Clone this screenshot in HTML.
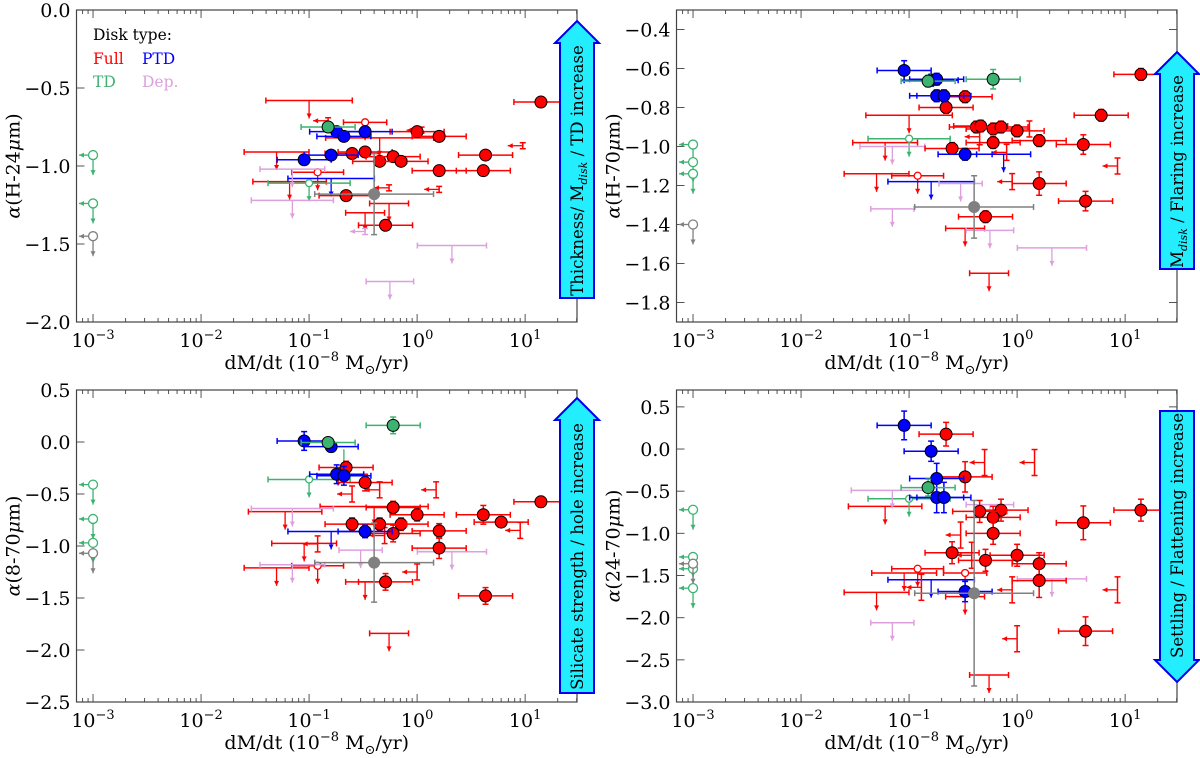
<!DOCTYPE html>
<html><head><meta charset="utf-8"><style>
html,body{margin:0;padding:0;background:#fff;}
svg{display:block;font-family:"DejaVu Serif","Liberation Serif",serif;}
</style></head><body>
<svg id="chart" width="1200" height="758" viewBox="0 0 1200 758" xmlns="http://www.w3.org/2000/svg">
<g font-size="15.5">
<text x="93" y="40" fill="#000">Disk type:</text>
<text x="93" y="64" fill="#ff0000">Full</text>
<text x="142" y="64" fill="#0000ff">PTD</text>
<text x="93" y="87" fill="#3cb371">TD</text>
<text x="142" y="87" fill="#dda0dd">Dep.</text>
</g>
</svg>
<script>
// ---- data (x in 1e-8 Msun/yr, y = spectral index) ----
// color codes: r=Full, b=PTD, g=TD, p=Dep., k=unknown(gray)
const xTickLabels = ["-3","-2","-1","0","1"];
const p1YTicks = [0.0,-0.5,-1.0,-1.5,-2.0];
const p2YTicks = [-0.4,-0.6,-0.8,-1.0,-1.2,-1.4,-1.6,-1.8];
const p3YTicks = [0.5,0.0,-0.5,-1.0,-1.5,-2.0,-2.5];
const p4YTicks = [0.5,0.0,-0.5,-1.0,-1.5,-2.0,-2.5,-3.0];

// Panel 1: alpha(H-24)
const p1FX = [14,1.0,1.6,4.3,1.6,4.1,0.25,0.33,0.45,0.6,0.71,0.22,0.51, 0.09,0.16,0.18,0.21,0.33, 0.15, 0.40];
const p1FY = [-0.59,-0.78,-0.81,-0.93,-1.03,-1.03,-0.92,-0.91,-0.97,-0.94,-0.97,-1.19,-1.38, -0.96,-0.93,-0.78,-0.81,-0.78, -0.75, -1.18];
const p1FC = ["r","r","r","r","r","r","r","r","r","r","r","r","r","b","b","b","b","b","g","k"];
const p1FYE = [0.03,0.03,0.03,0.03,0.03,0.03,0.03,0.03,0.03,0.03,0.03,0.03,0.03,0.03,0.03,0.03,0.03,0.03,0.03,0.26];
const p1LX = [0.1,0.066,0.05,0.33,0.55,0.45,0.33,0.12,0.16,0.1,0.07,2.1,0.56,0.07];
const p1LY = [-0.58,-1.10,-0.91,-1.30,-1.24,-0.82,-0.72,-1.04,-1.08,-1.11,-1.22,-1.51,-1.74,-1.02];
const p1LW = [0.4,0.34,0.3,0.18,0.18,0.5,0.2,0.24,0.4,0.38,0.38,0.32,0.22,0.3];
const p1LC = ["r","r","r","r","r","r","r","r","b","g","p","p","p","p"];
const p1LO = [0,0,0,0,0,0,1,1,0,1,0,0,0,0];
const p1AX = [9.5,1.6,1.1,0.15,0.55,0.33];
const p1AY = [-0.87,-1.15,-0.77,-0.71,-1.14,-1.42];
const p1AC = ["r","r","r","r","r","p"];
const p1CY = [-0.93,-1.24,-1.45];
const p1CC = ["g","g","k"];

// Panel 2: alpha(H-70)
const p2FX = [14,6.0,0.33,0.22,0.42,0.46,0.6,0.71,1.0,1.6,4.1,0.25,0.6,1.6,4.3,0.51, 0.09,0.16,0.18,0.18,0.21,0.33, 0.15,0.6, 0.40];
const p2FY = [-0.63,-0.84,-0.745,-0.80,-0.90,-0.895,-0.91,-0.90,-0.92,-0.97,-0.99,-1.01,-0.98,-1.19,-1.28,-1.36, -0.61,-0.66,-0.655,-0.74,-0.74,-1.04, -0.665,-0.655, -1.31];
const p2FC = ["r","r","r","r","r","r","r","r","r","r","r","r","r","r","r","r","b","b","b","b","b","b","g","g","k"];
const p2FYE = [0.03,0.03,0.03,0.03,0.03,0.03,0.03,0.03,0.03,0.03,0.05,0.03,0.03,0.06,0.05,0.03,0.05,0.03,0.03,0.03,0.03,0.03,0.03,0.05,0.16];
const p2LX = [0.1,0.06,0.05,0.33,0.55,0.12,0.16,0.75,0.1,0.07,2.1,0.56,0.3,0.07];
const p2LY = [-0.84,-0.98,-1.14,-1.42,-1.65,-1.15,-1.18,-1.04,-0.96,-1.32,-1.52,-1.43,-1.19,-1.0];
const p2LW = [0.4,0.3,0.3,0.18,0.18,0.24,0.4,0.25,0.38,0.2,0.32,0.22,0.2,0.3];
const p2LC = ["r","r","r","r","r","r","b","b","g","p","p","p","p","p"];
const p2LO = [0,0,0,0,0,1,0,0,1,0,0,0,0,0];
const p2AX = [8.5,1.3,0.9,0.8,0.45];
const p2AY = [-1.10,-0.91,-1.18,-1.03,-0.95];
const p2AC = ["r","r","r","r","r"];
const p2CY = [-0.99,-1.08,-1.14,-1.40];
const p2CC = ["g","g","g","k"];

// Panel 3: alpha(8-70)
const p3FX = [14,6.0,4.1,4.3,1.6,1.6,1.0,0.71,0.6,0.6,0.45,0.25,0.33,0.22,0.51, 0.09,0.16,0.18,0.21,0.33, 0.6,0.15, 0.40];
const p3FY = [-0.575,-0.77,-0.70,-1.48,-0.855,-1.02,-0.70,-0.79,-0.63,-0.88,-0.79,-0.79,-0.39,-0.245,-1.345, 0.01,-0.045,-0.31,-0.325,-0.86, 0.16,-0.005, -1.16];
const p3FC = ["r","r","r","r","r","r","r","r","r","r","r","r","r","r","r","b","b","b","b","b","g","g","k"];
const p3FYE = [0.05,0.05,0.09,0.08,0.07,0.1,0.06,0.06,0.06,0.08,0.06,0.06,0.08,0.06,0.08,0.09,0.05,0.09,0.09,0.06,0.08,0.05,0.38];
const p3LX = [0.06,0.09,0.05,0.33,0.55,0.4,0.12,0.16,0.1,0.21,0.07,0.07,2.1,0.3];
const p3LY = [-0.67,-0.975,-1.21,-1.345,-1.84,-0.62,-1.19,-0.86,-0.36,-0.07,-0.64,-1.18,-1.055,-1.04];
const p3LW = [0.34,0.3,0.3,0.18,0.18,0.5,0.24,0.4,0.38,0.0,0.38,0.3,0.32,0.2];
const p3LC = ["r","r","r","r","r","r","r","b","g","g","p","p","p","p"];
const p3LO = [0,0,0,0,0,0,1,0,1,0,0,0,0,0];
const p3AX = [9.0,1.5,1.0,0.45,0.12,0.25,0.5];
const p3AY = [-0.85,-0.46,-1.25,-0.46,-0.98,-0.50,-0.90];
const p3AC = ["r","r","r","r","r","r","r"];
const p3CY = [-0.41,-0.74,-0.97,-1.07];
const p3CC = ["g","g","g","k"];

// Panel 4: alpha(24-70)
const p4FX = [14,4.1,4.3,1.6,1.6,1.0,0.71,0.6,0.6,0.45,0.51,0.25,0.33,0.22, 0.09,0.16,0.18,0.18,0.21,0.33, 0.15, 0.40];
const p4FY = [-0.725,-0.875,-2.16,-1.36,-1.56,-1.26,-0.725,-0.81,-1.0,-0.74,-1.32,-1.23,-0.33,0.176, 0.28,-0.026,-0.35,-0.575,-0.575,-1.69, -0.457, -1.71];
const p4FC = ["r","r","r","r","r","r","r","r","r","r","r","r","r","r","b","b","b","b","b","b","g","k"];
const p4FYE = [0.13,0.2,0.17,0.13,0.2,0.13,0.13,0.13,0.13,0.13,0.13,0.13,0.18,0.14,0.17,0.12,0.18,0.18,0.18,0.12,0.1,1.1];
const p4LX = [0.06,0.09,0.05,0.33,0.55,0.12,0.33,0.16,0.1,0.07,0.07,2.1,0.56];
const p4LY = [-0.68,-1.47,-1.70,-1.75,-2.68,-1.42,-1.47,-1.55,-0.59,-0.49,-2.06,-1.54,-0.66];
const p4LW = [0.34,0.3,0.3,0.18,0.18,0.24,0.2,0.4,0.38,0.38,0.2,0.32,0.22];
const p4LC = ["r","r","r","r","r","r","r","b","g","p","p","p","p"];
const p4LO = [0,0,0,0,0,1,1,0,1,0,0,0,0];
const p4AX = [0.5,1.45,8.5,0.9,1.0,0.3,0.38,0.13];
const p4AY = [-0.16,-0.16,-1.67,-1.67,-2.25,-1.02,-1.26,-1.64];
const p4AC = ["r","r","r","r","r","r","r","r"];
const p4CY = [-0.72,-1.28,-1.42,-1.65,-1.36];
const p4CC = ["g","g","g","g","k"];

// ---- rendering ----
const COLORS = {r:"#ff0000", b:"#0000ff", g:"#3cb371", p:"#dda0dd", k:"#808080"};
const svg = document.getElementById("chart");
const NS = "http://www.w3.org/2000/svg";
const XMIN = -3.153, XMAX = 1.48;

function mk(tag, attrs, parent) {
  const e = document.createElementNS(NS, tag);
  for (const k in attrs) e.setAttribute(k, attrs[k]);
  (parent || svg).appendChild(e);
  return e;
}

function drawPanel(P) {
  const g = mk("g", {});
  
  
  const W = P.right - P.left, H = P.bottom - P.top;
  const sx = v => P.left + (Math.log10(v) - XMIN) / (XMAX - XMIN) * W;
  const sy = v => P.top + (P.ymax - v) / (P.ymax - P.ymin) * H;

  for (let d = -4; d <= 2; d++) {
    for (let m = 1; m <= 9; m++) {
      const lv = d + Math.log10(m);
      if (lv < XMIN || lv > XMAX) continue;
      const x = P.left + (lv - XMIN) / (XMAX - XMIN) * W;
      const len = m === 1 ? 8 : 4;
      mk("line", {x1:x, y1:P.bottom, x2:x, y2:P.bottom-len, stroke:"#555", "stroke-width":1}, g);
      mk("line", {x1:x, y1:P.top, x2:x, y2:P.top+len, stroke:"#555", "stroke-width":1}, g);
    }
  }
  xTickLabels.forEach(l => {
    const x = sx(Math.pow(10, +l));
    const t = mk("text", {x:x, y:P.bottom+25, "text-anchor":"middle", "font-size":19, fill:"#000"}, g);
    
    
    t.innerHTML = '10<tspan dy="-8" font-size="13">' + l.replace("-", "\u2212") + '</tspan>';
  });
  P.yticks.forEach(v => {
    const y = sy(v);
    mk("line", {x1:P.left, y1:y, x2:P.left+8, y2:y, stroke:"#555", "stroke-width":1}, g);
    mk("line", {x1:P.right, y1:y, x2:P.right-8, y2:y, stroke:"#555", "stroke-width":1}, g);
    const t = mk("text", {x:P.left-6, y:y+7, "text-anchor":"end", "font-size":19, fill:"#000"}, g);
    
    
    t.textContent = v.toFixed(1).replace("-", "\u2212");
  });
  const xl = mk("text", {x:(P.left+P.right)/2 - 10, y:P.bottom+47, "text-anchor":"middle", "font-size":19, fill:"#000"}, g);
  
  
  xl.innerHTML = 'dM/dt (10<tspan dy="-8" font-size="13">\u22128</tspan><tspan dy="8"> M</tspan><tspan dy="5" font-size="13">\u2299</tspan><tspan dy="-5">/yr)</tspan>';
  const yl = mk("text", {x:0, y:0, "text-anchor":"middle", "font-size":19, fill:"#000",
    transform:"translate(" + (P.left-57) + "," + ((P.top+P.bottom)/2) + ") rotate(-90)"}, g);
  
  
  yl.innerHTML = '<tspan font-style="italic">\u03b1</tspan>(' + P.ylab + '<tspan font-style="italic">\u03bc</tspan>m)';

  const clip = mk("g", {}, g);
  function darrow(x, y, c, len) {
    mk("line", {x1:x, y1:y, x2:x, y2:y+len, stroke:c, "stroke-width":1.3}, clip);
    mk("path", {d:"M"+(x-2.5)+","+(y+len-5)+" L"+(x+2.5)+","+(y+len-5)+" L"+x+","+(y+len)+" Z", fill:c}, clip);
  }
  function larrow(x, y, c, len) {
    mk("line", {x1:x, y1:y, x2:x-len, y2:y, stroke:c, "stroke-width":1.3}, clip);
    mk("path", {d:"M"+(x-len+5)+","+(y-2.5)+" L"+(x-len+5)+","+(y+2.5)+" L"+(x-len)+","+y+" Z", fill:c}, clip);
  }
  function hbar(x1, x2, y, c) {
    mk("line", {x1:x1, y1:y, x2:x2, y2:y, stroke:c, "stroke-width":1.5}, clip);
    mk("line", {x1:x1, y1:y-3, x2:x1, y2:y+3, stroke:c, "stroke-width":1.5}, clip);
    mk("line", {x1:x2, y1:y-3, x2:x2, y2:y+3, stroke:c, "stroke-width":1.5}, clip);
  }
  function vbar(x, y1, y2, c) {
    mk("line", {x1:x, y1:y1, x2:x, y2:y2, stroke:c, "stroke-width":1.5}, clip);
    mk("line", {x1:x-3, y1:y1, x2:x+3, y2:y1, stroke:c, "stroke-width":1.5}, clip);
    mk("line", {x1:x-3, y1:y2, x2:x+3, y2:y2, stroke:c, "stroke-width":1.5}, clip);
  }
  P.LX.forEach((xv, i) => {
    const c = COLORS[P.LC[i]];
    const x = sx(xv), y = sy(P.LY[i]);
    if (P.LW[i] > 0) hbar(sx(xv*Math.pow(10,-P.LW[i])), sx(xv*Math.pow(10,P.LW[i])), y, c);
    darrow(x, y, c, 18);
    if (P.LO[i]) mk("circle", {cx:x, cy:y, r:3.5, fill:"#fff", stroke:c, "stroke-width":1.3}, clip);
  });
  P.AX.forEach((xv, i) => {
    const c = COLORS[P.AC[i]];
    const x = sx(xv), y = sy(P.AY[i]);
    const dy = P.abar;
    vbar(x, y-dy, y+dy, c);
    larrow(x, y, c, 15);
  });
  P.CY.forEach((yv, i) => {
    const c = COLORS[P.CC[i]];
    const x = sx(0.001), y = sy(yv);
    larrow(x, y, c, 14);
    darrow(x, y, c, 20);
    const m = mk("circle", {cx:x, cy:y, r:4.5, fill:"#fff", stroke:c, "stroke-width":1.3}, clip);
    
    
  });
  P.FX.forEach((xv, i) => {
    const c = COLORS[P.FC[i]];
    const x = sx(xv), y = sy(P.FY[i]);
    const xe = P.FC[i] === "k" ? 0.55 : 0.25;
    hbar(sx(xv*Math.pow(10,-xe)), sx(xv*Math.pow(10,xe)), y, c);
    vbar(x, sy(P.FY[i]+P.FYE[i]), sy(P.FY[i]-P.FYE[i]), c);
    const m = mk("circle", {cx:x, cy:y, r:6, fill:c, stroke: P.FC[i]==="k" ? "none" : "#000", "stroke-width":1}, clip);
    
    
  });
  const fr = mk("rect", {x:P.left, y:P.top, width:W, height:H, fill:"none", stroke:"#444", "stroke-width":1.2}, g);
  
  

  const A = P.arrow, cx = P.right, hh = 22, sw = 12;
  let d;
  if (A.up) {
    d = "M"+cx+","+A.tip+" L"+(cx+22)+","+(A.tip+hh)+" L"+(cx+sw+5)+","+(A.tip+hh)+" L"+(cx+sw+5)+","+A.base+" L"+(cx-sw-5)+","+A.base+" L"+(cx-sw-5)+","+(A.tip+hh)+" L"+(cx-22)+","+(A.tip+hh)+" Z";
  } else {
    d = "M"+cx+","+A.tip+" L"+(cx+22)+","+(A.tip-hh)+" L"+(cx+sw+5)+","+(A.tip-hh)+" L"+(cx+sw+5)+","+A.base+" L"+(cx-sw-5)+","+A.base+" L"+(cx-sw-5)+","+(A.tip-hh)+" L"+(cx-22)+","+(A.tip-hh)+" Z";
  }
  const ap = mk("path", {d:d, fill:"#22eeff", stroke:"#0000ee", "stroke-width":2}, svg);
  
  
  const mid = A.up ? (A.tip + hh + A.base)/2 : (A.base + A.tip - hh)/2;
  const at = mk("text", {x:0, y:0, "text-anchor":"middle", "font-size":16.5, fill:"#000",
    transform:"translate(" + (cx+6) + "," + mid + ") rotate(-90)"}, svg);
  
  
  at.innerHTML = A.text;
}

const L = 76.5, R = 577, L2 = 676.5, R2 = 1177;
drawPanel({name:"panel-h-24", left:L, right:R, top:10, bottom:322, ymin:-2, ymax:0, yticks:p1YTicks, ylab:"H-24", abar:3,
  FX:p1FX, FY:p1FY, FC:p1FC, FYE:p1FYE, LX:p1LX, LY:p1LY, LW:p1LW, LC:p1LC, LO:p1LO, AX:p1AX, AY:p1AY, AC:p1AC, CY:p1CY, CC:p1CC,
  arrow:{up:true, tip:21, base:298, text:'Thickness/ M<tspan dy="4" font-size="11" font-style="italic">disk</tspan><tspan dy="-4"> / TD increase</tspan>'}});
drawPanel({name:"panel-h-70", left:L2, right:R2, top:10, bottom:322, ymin:-1.9, ymax:-0.3, yticks:p2YTicks, ylab:"H-70", abar:8,
  FX:p2FX, FY:p2FY, FC:p2FC, FYE:p2FYE, LX:p2LX, LY:p2LY, LW:p2LW, LC:p2LC, LO:p2LO, AX:p2AX, AY:p2AY, AC:p2AC, CY:p2CY, CC:p2CC,
  arrow:{up:true, tip:52, base:269, text:'M<tspan dy="4" font-size="11" font-style="italic">disk</tspan><tspan dy="-4"> / Flaring increase</tspan>'}});
drawPanel({name:"panel-8-70", left:L, right:R, top:390, bottom:702, ymin:-2.5, ymax:0.5, yticks:p3YTicks, ylab:"8-70", abar:8,
  FX:p3FX, FY:p3FY, FC:p3FC, FYE:p3FYE, LX:p3LX, LY:p3LY, LW:p3LW, LC:p3LC, LO:p3LO, AX:p3AX, AY:p3AY, AC:p3AC, CY:p3CY, CC:p3CC,
  arrow:{up:true, tip:398, base:693, text:'Silicate strength / hole increase'}});
drawPanel({name:"panel-24-70", left:L2, right:R2, top:390, bottom:702, ymin:-3.0, ymax:0.7, yticks:p4YTicks, ylab:"24-70", abar:13,
  FX:p4FX, FY:p4FY, FC:p4FC, FYE:p4FYE, LX:p4LX, LY:p4LY, LW:p4LW, LC:p4LC, LO:p4LO, AX:p4AX, AY:p4AY, AC:p4AC, CY:p4CY, CC:p4CC,
  arrow:{up:false, tip:682, base:411, text:'Settling / Flattening increase'}});
</script>
</body></html>
